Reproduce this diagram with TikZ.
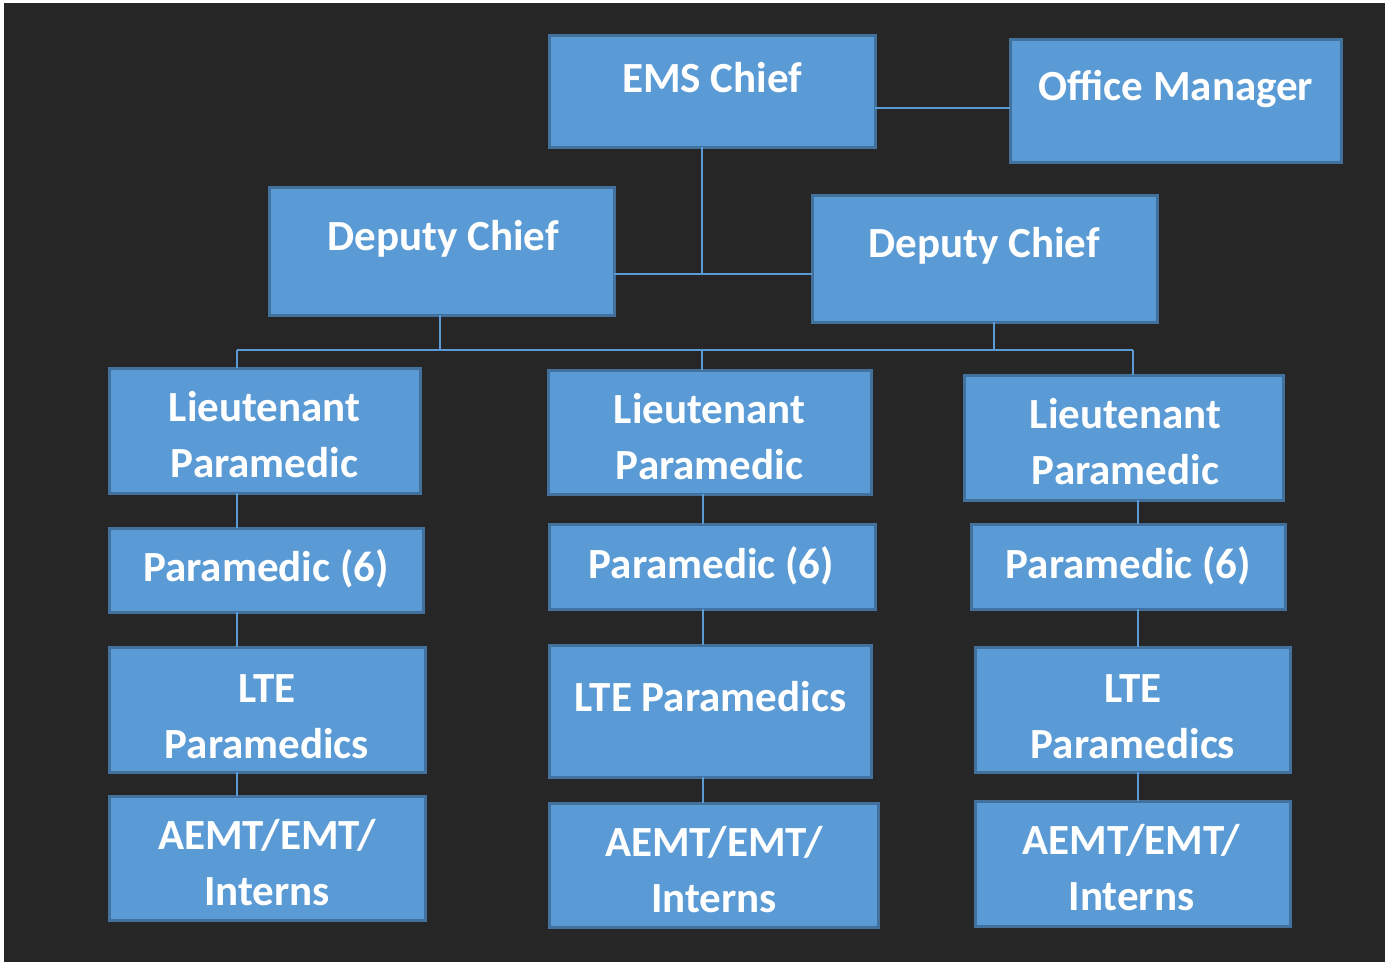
\documentclass[tikz,border=0pt]{standalone}
\usepackage{fontspec}
\setmainfont{Carlito}
\definecolor{bg}{HTML}{262626}
\definecolor{boxfill}{HTML}{5B9BD5}
\definecolor{boxline}{HTML}{41719C}
\definecolor{conn}{HTML}{5B9BD5}
\tikzset{
  box/.style={rectangle, fill=boxfill, draw=boxline, line width=3pt, inner sep=0pt, outer sep=0pt},
  lbl/.style={anchor=base, text=white, align=center, inner sep=0pt, font=\bfseries\fontsize{43}{56}\selectfont},
  link/.style={draw=conn, line width=2pt}
}
\begin{document}
\begin{tikzpicture}[x=1pt,y=-1pt]
\useasboundingbox (0,0) rectangle (1385,962);
\fill[white] (0,0) rectangle (1385,962);
\fill[bg] (4,3) rectangle (1385,962);
% boxes
\node[box, minimum width=326pt, minimum height=112pt] (ems) at (712,91) {};
\node[box, minimum width=331pt, minimum height=123pt] (om) at (1175.5,100.5) {};
\node[box, minimum width=345pt, minimum height=128pt] (dl) at (441.5,251) {};
\node[box, minimum width=345pt, minimum height=127pt] (dr) at (984.5,258.5) {};
\node[box, minimum width=311pt, minimum height=125pt] (ll) at (264.5,430.5) {};
\node[box, minimum width=323pt, minimum height=124pt] (lm) at (709.5,432) {};
\node[box, minimum width=319pt, minimum height=125pt] (lr) at (1123.5,437.5) {};
\node[box, minimum width=314pt, minimum height=84pt] (pl) at (266,570) {};
\node[box, minimum width=326pt, minimum height=85pt] (pm) at (712,566.5) {};
\node[box, minimum width=314pt, minimum height=85pt] (pr) at (1128,566.5) {};
\node[box, minimum width=316pt, minimum height=125pt] (el) at (267,709.5) {};
\node[box, minimum width=322pt, minimum height=132pt] (em) at (710,711) {};
\node[box, minimum width=315pt, minimum height=125pt] (er) at (1132.5,709.5) {};
\node[box, minimum width=316pt, minimum height=124pt] (al) at (267,858) {};
\node[box, minimum width=329pt, minimum height=124pt] (am) at (713.5,865) {};
\node[box, minimum width=315pt, minimum height=125pt] (ar) at (1132.5,863.5) {};
% labels (two-line labels: base = baseline of last line)
\node[lbl] (t-ems) at (712,92) {EMS Chief};
\node[lbl] (t-om) at (1176,100) {Office Manager};
\node[lbl] (t-dl) at (443,250) {Deputy Chief};
\node[lbl] (t-dr) at (984,257) {Deputy Chief};
\node[lbl] (t-ll) at (264.5,477) {Lieutenant\\Paramedic};
\node[lbl] (t-lm) at (709.5,479) {Lieutenant\\Paramedic};
\node[lbl] (t-lr) at (1125.5,484) {Lieutenant\\Paramedic};
\node[lbl] (t-pl) at (266,581) {Paramedic (6)};
\node[lbl] (t-pm) at (711.5,578) {Paramedic (6)};
\node[lbl] (t-pr) at (1128.5,578) {Paramedic (6)};
\node[lbl] (t-el) at (267,758) {LTE\\Paramedics};
\node[lbl] (t-em) at (710.5,711) {LTE Paramedics};
\node[lbl] (t-er) at (1133,758) {LTE\\Paramedics};
\node[lbl] (t-al) at (267,905) {AEMT/EMT/\\Interns};
\node[lbl] (t-am) at (714,912) {AEMT/EMT/\\Interns};
\node[lbl] (t-ar) at (1131.5,910) {AEMT/EMT/\\Interns};
% connector coordinates
\coordinate (j1) at (702,274);
\coordinate (bus) at (702,350);
\coordinate (xl) at (237,0);
\coordinate (xm) at (703,0);
\coordinate (xr) at (1133,0);
\coordinate (xr2) at (1138,0);
% connectors
\draw[link] ([yshift=-17pt]ems.east) -- ([yshift=-17pt]ems.east -| om.west);
\draw[link] ([xshift=-10pt]ems.south) -- ([xshift=-10pt]ems.south |- j1);
\draw[link] (dl.east |- j1) -- (dr.west |- j1);
\draw[link] ([xshift=-1.5pt]dl.south) -- ([xshift=-1.5pt]dl.south |- bus);
\draw[link] ([xshift=9.5pt]dr.south) -- ([xshift=9.5pt]dr.south |- bus);
\draw[link] (xl |- bus) -- (xr |- bus);
\draw[link] (xl |- bus) -- (xl |- ll.north);
\draw[link] (bus) -- (bus |- lm.north);
\draw[link] (xr |- bus) -- (xr |- lr.north);
\draw[link] (xl |- ll.south) -- (xl |- pl.north);
\draw[link] (xl |- pl.south) -- (xl |- el.north);
\draw[link] (xl |- el.south) -- (xl |- al.north);
\draw[link] (xm |- lm.south) -- (xm |- pm.north);
\draw[link] (xm |- pm.south) -- (xm |- em.north);
\draw[link] (xm |- em.south) -- (xm |- am.north);
\draw[link] (xr2 |- lr.south) -- (xr2 |- pr.north);
\draw[link] (xr2 |- pr.south) -- (xr2 |- er.north);
\draw[link] (xr2 |- er.south) -- (xr2 |- ar.north);
\end{tikzpicture}
\end{document}
